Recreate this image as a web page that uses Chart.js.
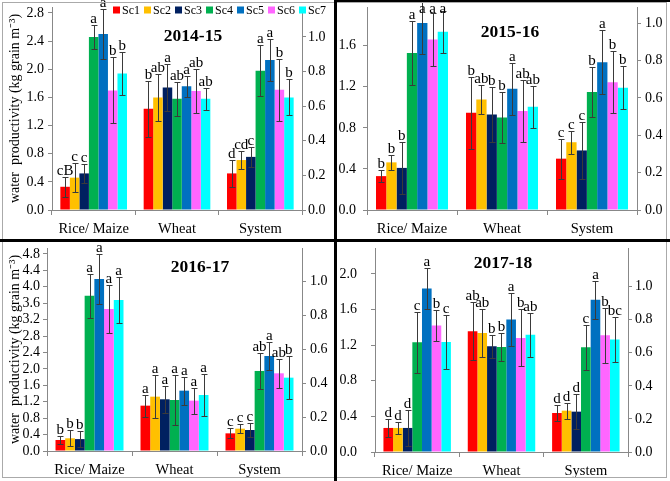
<!DOCTYPE html>
<html><head><meta charset="utf-8">
<script src="https://cdn.jsdelivr.net/npm/chart.js@4/dist/chart.umd.min.js"></script>
<style>
body{margin:0;background:#fff;width:670px;height:481px;position:relative;overflow:hidden}
.p{position:absolute}
canvas{display:block}
.ln{position:absolute;z-index:5}
</style></head><body>
<div class="p" style="left:0;top:0"><canvas id="c1" width="335" height="240"></canvas></div>
<div class="p" style="left:335px;top:0"><canvas id="c2" width="335" height="240"></canvas></div>
<div class="p" style="left:0;top:240px"><canvas id="c3" width="335" height="241"></canvas></div>
<div class="p" style="left:335px;top:240px"><canvas id="c4" width="335" height="241"></canvas></div>
<div class="ln" style="left:2px;top:2px;width:665px;height:476px;border:1px solid #aaa;box-sizing:border-box"></div>
<div class="ln" style="left:335px;top:0;width:335px;height:2px;background:#000"></div>
<div class="ln" style="left:334px;top:0;width:3px;height:481px;background:#000"></div>
<div class="ln" style="left:0;top:239px;width:670px;height:3px;background:#000"></div>
<script>
// ---------- data ----------
const categories = ['Rice/ Maize', 'Wheat', 'System'];
const scenarios = ['Sc1', 'Sc2', 'Sc3', 'Sc4', 'Sc5', 'Sc6', 'Sc7'];
const seriesColors = ['#FF0000', '#FFC000', '#002060', '#00B050', '#0070C0', '#FF66FF', '#00FFFF'];
const yAxisTitle = 'water  productivity (kg grain m\u207B\u00B3)';

// 2014-15 : rows = Rice/ Maize, Wheat, System ; columns = Sc1..Sc7
const mean1415 = [[0.33, 0.46, 0.52, 2.46, 2.50, 1.70, 1.94],
                  [1.44, 1.60, 1.74, 1.58, 1.76, 1.69, 1.58],
                  [0.52, 0.71, 0.755, 1.98, 2.13, 1.71, 1.60]];
const err1415 = [[0.14, 0.21, 0.14, 0.165, 0.35, 0.47, 0.30],
                 [0.40, 0.33, 0.33, 0.24, 0.15, 0.31, 0.155],
                 [0.19, 0.125, 0.14, 0.36, 0.30, 0.44, 0.255]];
const letters1415 = [['cB', 'c', 'c', 'a', 'a', 'b', 'b'],
                     ['b', 'ab', 'a', 'ab', 'a', 'ab', 'ab'],
                     ['d', 'cd', 'c', 'a', 'a', 'b', 'b']];

// 2015-16
const mean1516 = [[0.33, 0.464, 0.41, 1.53, 1.82, 1.66, 1.735],
                  [0.947, 1.077, 0.93, 0.90, 1.18, 0.963, 1.005],
                  [0.50, 0.66, 0.58, 1.15, 1.44, 1.245, 1.19]];
const err1516 = [[0.055, 0.07, 0.25, 0.31, 0.30, 0.26, 0.205],
                 [0.35, 0.14, 0.27, 0.245, 0.25, 0.30, 0.205],
                 [0.195, 0.113, 0.275, 0.245, 0.31, 0.30, 0.21]];
const letters1516 = [['b', 'b', 'b', 'a', 'a', 'a', 'a'],
                     ['b', 'ab', 'b', 'b', 'a', 'ab', 'ab'],
                     ['c', 'c', 'c', 'b', 'a', 'b', 'b']];

// 2016-17
const mean1617 = [[0.268, 0.31, 0.29, 3.78, 4.19, 3.46, 3.68],
                  [1.105, 1.324, 1.26, 1.243, 1.47, 1.227, 1.365],
                  [0.43, 0.544, 0.512, 1.95, 2.315, 1.893, 1.787]];
const err1617 = [[0.10, 0.195, 0.195, 0.53, 0.61, 0.59, 0.555],
                 [0.27, 0.52, 0.33, 0.61, 0.34, 0.32, 0.51],
                 [0.12, 0.11, 0.18, 0.435, 0.33, 0.35, 0.525]];
const letters1617 = [['b', 'b', 'b', 'a', 'a', 'a', 'a'],
                     ['a', 'a', 'a', 'a', 'a', 'a', 'a'],
                     ['c', 'c', 'c', 'ab', 'a', 'ab', 'b']];

// 2017-18
const mean1718 = [[0.27, 0.27, 0.27, 1.232, 1.835, 1.42, 1.236],
                  [1.356, 1.337, 1.187, 1.18, 1.487, 1.28, 1.315],
                  [0.438, 0.464, 0.453, 1.176, 1.71, 1.31, 1.262]];
const err1718 = [[0.10, 0.072, 0.20, 0.34, 0.225, 0.17, 0.30],
                 [0.325, 0.27, 0.13, 0.155, 0.30, 0.32, 0.25],
                 [0.085, 0.09, 0.20, 0.255, 0.215, 0.31, 0.25]];
const letters1718 = [['d', 'd', 'd', 'c', 'a', 'b', 'c'],
                     ['ab', 'ab', 'b', 'b', 'a', 'b', 'ab'],
                     ['d', 'd', 'd', 'c', 'a', 'b', 'bc']];

// tick labels
const leftTicks1415 = [0, 0.4, 0.8, 1.2, 1.6, 2.0, 2.4, 2.8];
const leftTicks1516 = [0, 0.4, 0.8, 1.2, 1.6];
const leftTicks1617 = [0, 0.4, 0.8, 1.2, 1.6, 2.0, 2.4, 2.8, 3.2, 3.6, 4.0, 4.4, 4.8];
const leftTicks1718 = [0, 0.4, 0.8, 1.2, 1.6, 2.0];
const rightTicks = [0, 0.2, 0.4, 0.6, 0.8, 1.0];

// ---------- drawing ----------
const SERIF = '"Liberation Serif", "Times New Roman", serif';

const errPlugin = {
  id: 'errLetters',
  afterDatasetsDraw(chart, args, o) {
    const ctx = chart.ctx, ys = chart.scales.y;
    chart.data.datasets.forEach((ds, di) => {
      const meta = chart.getDatasetMeta(di);
      meta.data.forEach((bar, ci) => {
        const v = ds.data[ci], e = ds.errs[ci];
        const yt = Math.round(ys.getPixelForValue(v + e)) + 0.5;
        const yb = Math.round(ys.getPixelForValue(v - e)) + 0.5;
        const x = Math.round(bar.x) + 0.5;
        ctx.save();
        ctx.strokeStyle = '#3a3a3a'; ctx.lineWidth = 1;
        ctx.beginPath();
        ctx.moveTo(x, yt); ctx.lineTo(x, yb);
        ctx.moveTo(x - 3, yt); ctx.lineTo(x + 3, yt);
        ctx.moveTo(x - 3, yb); ctx.lineTo(x + 3, yb);
        ctx.stroke();
        ctx.font = '15px ' + SERIF;
        ctx.textAlign = 'center'; ctx.textBaseline = 'alphabetic';
        ctx.fillStyle = '#000';
        ctx.fillText(ds.letters[ci], bar.x, Math.max(yt - 2.5, o.minLetterY));
        ctx.restore();
      });
    });
    // panel title
    ctx.save();
    ctx.font = 'bold 17.5px ' + SERIF;
    ctx.textAlign = 'center'; ctx.textBaseline = 'middle'; ctx.fillStyle = '#000';
    ctx.fillText(o.title, o.titleX, o.titleY);
    // legend
    if (o.legend) {
      ctx.font = '12px ' + SERIF;
      ctx.textAlign = 'left';
      let lx = o.legendX;
      chart.data.datasets.forEach(ds => {
        ctx.fillStyle = ds.backgroundColor;
        ctx.fillRect(lx, o.legendY - 3.5, 7, 7);
        ctx.fillStyle = '#000';
        ctx.fillText(ds.label, lx + 9, o.legendY + 0.5);
        lx += 9 + ctx.measureText(ds.label).width + 4;
      });
    }
    ctx.restore();
  }
};

function makeChart(id, means, errs, letters, leftTicks, lay) {
  const canvas = document.getElementById(id);
  const W = canvas.width, H = canvas.height;
  const datasets = scenarios.map((name, s) => ({
    label: name,
    data: categories.map((c, i) => means[i][s]),
    errs: categories.map((c, i) => errs[i][s]),
    letters: categories.map((c, i) => letters[i][s]),
    backgroundColor: seriesColors[s],
    borderWidth: 0,
    categoryPercentage: 0.8,
    barPercentage: 1.0
  }));
  const tickFont = { family: SERIF, size: 14 };
  return new Chart(canvas, {
    type: 'bar',
    data: { labels: categories, datasets },
    plugins: [errPlugin],
    options: {
      responsive: false, animation: false, devicePixelRatio: 1,
      layout: { padding: { top: lay.T, left: 0, right: 0, bottom: 0 } },
      plugins: {
        legend: { display: false }, tooltip: { enabled: false },
        errLetters: {
          title: lay.title, titleX: lay.titleX, titleY: lay.titleY,
          legend: !!lay.legend, legendX: lay.legendX, legendY: lay.legendY,
          minLetterY: lay.minLetterY || 0
        }
      },
      scales: {
        x: {
          offset: true,
          grid: { offset: true, drawOnChartArea: false, tickLength: 5, color: '#888' },
          border: { color: '#888' },
          ticks: { font: { family: SERIF, size: 14.5 }, color: '#000', padding: 5, maxRotation: 0, autoSkip: false },
          afterFit(s) { s.height = H - lay.B; s.paddingLeft = 0; s.paddingRight = 0; }
        },
        y: {
          position: 'left', min: 0, max: lay.leftMax, bounds: 'data',
          afterBuildTicks(s) { s.ticks = leftTicks.map(v => ({ value: v })); },
          ticks: { font: tickFont, color: '#000', padding: lay.lp, autoSkip: false, callback: v => Number(v).toFixed(1) },
          grid: { drawOnChartArea: false, tickLength: 4, color: '#888' },
          border: { color: '#888' },
          title: { display: !!lay.yTitle, text: yAxisTitle, color: '#000',
                   font: { family: SERIF, size: 14 }, padding: { top: 7, bottom: 0 } },
          afterFit(s) { s.width = lay.L; s.paddingTop = 0; s.paddingBottom = 0; }
        },
        y2: {
          position: 'right', min: 0, max: lay.rightMax, bounds: 'data',
          afterBuildTicks(s) { s.ticks = rightTicks.map(v => ({ value: v })); },
          ticks: { font: tickFont, color: '#000', padding: lay.rp, autoSkip: false, callback: v => Number(v).toFixed(1) },
          grid: { drawOnChartArea: false, tickLength: 4, color: '#888' },
          border: { color: '#888' },
          afterFit(s) { s.width = W - lay.R; s.paddingTop = 0; s.paddingBottom = 0; }
        }
      }
    }
  });
}

makeChart('c1', mean1415, err1415, letters1415, leftTicks1415,
  { L: 52, R: 302, T: 7, B: 210, leftMax: 2.885, rightMax: 1.173, lp: 4, rp: 2, yTitle: true,
    title: '2014-15', titleX: 193, titleY: 36, legend: true, legendX: 113, legendY: 10 });
makeChart('c2', mean1516, err1516, letters1516, leftTicks1516,
  { L: 32, R: 302, T: 7, B: 210, leftMax: 1.977, rightMax: 1.087, lp: 7, rp: 4,
    title: '2015-16', titleX: 175, titleY: 32, minLetterY: 13 });
makeChart('c3', mean1617, err1617, letters1617, leftTicks1617,
  { L: 47, R: 302, T: 8, B: 211, leftMax: 4.946, rightMax: 1.199, lp: 3, rp: 4, yTitle: true,
    title: '2016-17', titleX: 200, titleY: 27 });
makeChart('c4', mean1718, err1718, letters1718, leftTicks1718,
  { L: 40, R: 293, T: 8, B: 212, leftMax: 2.29, rightMax: 1.234, lp: 14, rp: 3,
    title: '2017-18', titleX: 168, titleY: 23 });
</script>
</body></html>
